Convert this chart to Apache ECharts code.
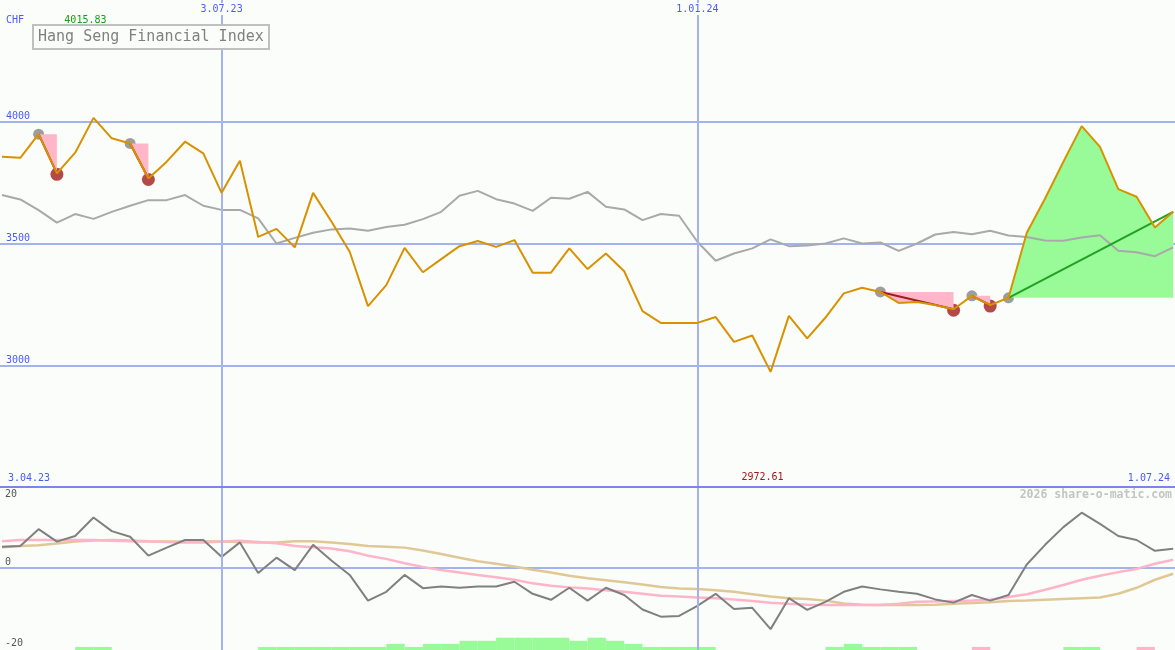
<!DOCTYPE html>
<html><head><meta charset="utf-8">
<script src="https://cdn.jsdelivr.net/npm/echarts@6/dist/echarts.min.js"></script>
<style>html,body{margin:0;padding:0;background:#fbfdfb}#c{width:1175px;height:650px}</style>
</head><body><div id="c"></div>
<script>
// ---------- data (weekly points, index 0 .. 64) ----------
const topDateWeeks = [12, 38];
const topDateLabels = ['3.07.23', '1.01.24'];
const spanLabels = ['3.04.23', '1.07.24'];
const unitLabel = 'CHF';
const titleText = 'Hang Seng Financial Index';
const watermark = '2026 share-o-matic.com';

const price = [3856, 3852, 3949, 3788, 3873, 4015.83, 3932, 3911, 3767, 3836,
  3918, 3870, 3708, 3840, 3527, 3560, 3484, 3708, 3590, 3466,
  3243, 3329, 3482, 3382, 3436, 3489, 3510, 3486, 3514, 3380,
  3380, 3480, 3395, 3459, 3386, 3222, 3174, 3174, 3174, 3198,
  3096, 3122, 2972.61, 3203, 3110, 3196, 3295, 3318, 3301, 3256,
  3260, 3247, 3230, 3285, 3247, 3277, 3544, 3685, 3836, 3982,
  3897, 3723, 3692, 3566, 3630];
const benchmark = [3699, 3681, 3637, 3586, 3621, 3601, 3630, 3655, 3678, 3678,
  3699, 3655, 3638, 3638, 3603, 3500, 3523, 3544, 3558, 3562,
  3552, 3568, 3577, 3600, 3630, 3696, 3716, 3682, 3664, 3634,
  3688, 3684, 3712, 3651, 3640, 3596, 3621, 3614, 3507, 3429,
  3459, 3480, 3517, 3489, 3492, 3500, 3521, 3500, 3504, 3470,
  3500, 3537, 3547, 3538, 3552, 3533, 3527, 3512, 3511, 3525,
  3534, 3470, 3464, 3448, 3484];
const momentum = [5.2, 5.4, 9.6, 6.5, 7.9, 12.5, 9.1, 7.7, 3.0, 5.0,
  6.9, 6.9, 2.7, 6.3, -1.3, 2.5, -0.6, 5.7, 1.8, -1.8,
  -8.2, -6.0, -1.8, -5.1, -4.7, -5.0, -4.7, -4.7, -3.5, -6.5,
  -8.0, -5.0, -8.2, -5.0, -6.8, -10.4, -12.2, -12.0, -9.5, -6.5,
  -10.3, -10.0, -15.3, -7.6, -10.5, -8.5, -6.0, -4.7, -5.4, -6.0,
  -6.5, -7.9, -8.7, -6.8, -8.2, -6.8, 0.8, 5.7, 10.1, 13.7,
  10.9, 7.9, 6.9, 4.2, 4.7];
const avgFast = [6.6, 6.9, 6.9, 6.9, 6.9, 6.9, 6.7, 6.6, 6.5, 6.4,
  6.3, 6.3, 6.5, 6.7, 6.4, 6.1, 5.4, 5.1, 4.8, 4.1,
  3.0, 2.2, 1.1, 0.2, -0.6, -1.2, -1.8, -2.4, -3.0, -3.9,
  -4.5, -4.9, -5.2, -5.6, -6.0, -6.5, -7.0, -7.2, -7.4, -7.6,
  -7.9, -8.3, -8.7, -9.0, -9.2, -9.3, -9.3, -9.3, -9.3, -9.0,
  -8.5, -8.4, -8.3, -8.2, -8.0, -7.3, -6.6, -5.5, -4.3, -3.0,
  -2.0, -1.1, -0.3, 1.0, 2.0];
const avgSlow = [5.1, 5.4, 5.6, 6.0, 6.5, 6.8, 6.9, 6.8, 6.6, 6.5,
  6.5, 6.6, 6.5, 6.4, 6.3, 6.3, 6.6, 6.6, 6.3, 5.9,
  5.4, 5.2, 5.0, 4.3, 3.4, 2.5, 1.6, 1.0, 0.3, -0.5,
  -1.2, -2.0, -2.6, -3.1, -3.6, -4.2, -4.8, -5.2, -5.3, -5.6,
  -6.0, -6.6, -7.2, -7.6, -7.8, -8.2, -8.9, -9.2, -9.3, -9.3,
  -9.3, -9.2, -9.0, -8.8, -8.6, -8.3, -8.2, -8.0, -7.8, -7.6,
  -7.4, -6.5, -5.0, -3.0, -1.5];
// signal bars, one per week interval (i .. i+1)
const barsGreen = [0, 0, 0, 0, 1, 1, 0, 0, 0, 0, 0, 0, 0, 0, 1, 1, 1, 1, 1, 1,
  1, 2, 1, 2, 2, 3, 3, 4, 4, 4, 4, 3, 4, 3, 2, 1, 1, 1, 1, 0,
  0, 0, 0, 0, 0, 1, 2, 1, 1, 1, 0, 0, 0, 0, 0, 0, 0, 0, 1, 1,
  0, 0, 0, 0];
const barsPink = [0, 0, 0, 0, 0, 0, 0, 0, 0, 0, 0, 0, 0, 0, 0, 0, 0, 0, 0, 0,
  0, 0, 0, 0, 0, 0, 0, 0, 0, 0, 0, 0, 0, 0, 0, 0, 0, 0, 0, 0,
  0, 0, 0, 0, 0, 0, 0, 0, 0, 0, 0, 0, 0, 1, 0, 0, 0, 0, 0, 0,
  0, 0, 1, 0];
// signals: [start week, end week]
const sellSignals = [[2, 3], [7, 8], [48, 52], [53, 54]];
const buySignals = [[55, 64]];

// ---------- chart ----------
const chart = echarts.init(document.getElementById('c'), null, {renderer: 'canvas'});
const BG = '#fbfdfb';
const GRID = '#a4b2f0';
const DIV = '#7886ee';
const BLUE = '#4a5cf0';
const FONT = 'DejaVu Sans Mono';
const X_MIN = -0.109, X_MAX = 64.099;
const W = 1175;
const barW = W / (X_MAX - X_MIN);

const pts = arr => arr.map((v, i) => [i, v]);
const seg = (arr, s, e) => arr.slice(s, e + 1).map((v, k) => [s + k, v]);
const vLines = () => ({
  silent: true, symbol: 'none', label: {show: false},
  lineStyle: {color: GRID, width: 2, type: 'solid'},
  data: topDateWeeks.map(w => ({xAxis: w})), animation: false
});
const hiddenX = (gi) => ({type: 'value', gridIndex: gi, min: X_MIN, max: X_MAX, show: false});

const series = [];
series.push({type: 'scatter', xAxisIndex: 0, yAxisIndex: 0, z: 1, symbolSize: 11,
  itemStyle: {color: '#858585'},
  data: sellSignals.concat(buySignals).map(([s]) => [s, price[s]])});
series.push({type: 'scatter', xAxisIndex: 0, yAxisIndex: 0, z: 1, symbolSize: 13, symbolOffset: [0, 1],
  itemStyle: {color: '#a11d1d'},
  data: sellSignals.map(([, e]) => [e, price[e]])});
sellSignals.forEach(([s, e]) => series.push({type: 'line', xAxisIndex: 0, yAxisIndex: 0, z: 2,
  data: seg(price, s, e), showSymbol: false, lineStyle: {width: 0, opacity: 0},
  areaStyle: {color: '#ffb6c8', opacity: 1, origin: price[s]}}));
buySignals.forEach(([s, e]) => series.push({type: 'line', xAxisIndex: 0, yAxisIndex: 0, z: 2,
  data: seg(price, s, e), showSymbol: false, lineStyle: {width: 0, opacity: 0},
  areaStyle: {color: '#98fb98', opacity: 1, origin: price[s]}}));
series.push({type: 'line', xAxisIndex: 0, yAxisIndex: 0, z: 3, data: pts(benchmark),
  showSymbol: false, lineStyle: {color: '#a9a9a9', width: 2}, markLine: vLines()});
sellSignals.forEach(([s, e]) => series.push({type: 'line', xAxisIndex: 0, yAxisIndex: 0, z: 4,
  data: [[s, price[s]], [e, price[e]]], showSymbol: false, lineStyle: {color: '#a11d1d', width: 2}}));
buySignals.forEach(([s, e]) => series.push({type: 'line', xAxisIndex: 0, yAxisIndex: 0, z: 4,
  data: [[s, price[s]], [e, price[e]]], showSymbol: false, lineStyle: {color: '#22a022', width: 2}}));
series.push({type: 'line', xAxisIndex: 0, yAxisIndex: 0, z: 5, data: pts(price),
  showSymbol: false, lineStyle: {color: '#d89200', width: 2}});
series.push({type: 'line', xAxisIndex: 2, yAxisIndex: 1, z: 3, data: pts(avgSlow),
  showSymbol: false, lineStyle: {color: '#e0c896', width: 2.5}, markLine: vLines()});
series.push({type: 'line', xAxisIndex: 2, yAxisIndex: 1, z: 3, data: pts(avgFast),
  showSymbol: false, lineStyle: {color: '#ffb4c8', width: 2.5}});
series.push({type: 'line', xAxisIndex: 2, yAxisIndex: 1, z: 4, data: pts(momentum),
  showSymbol: false, lineStyle: {color: '#808080', width: 2}});
series.push({type: 'bar', xAxisIndex: 3, yAxisIndex: 3, stack: 'sig', barWidth: barW, z: 2,
  itemStyle: {color: '#98fb98'}, data: barsGreen.map((v, i) => [i + 0.5, v]), markLine: vLines()});
series.push({type: 'bar', xAxisIndex: 3, yAxisIndex: 3, stack: 'sig', barWidth: barW, z: 2,
  itemStyle: {color: '#ffb6c8'}, data: barsPink.map((v, i) => [i + 0.5, v])});

const option = {
  animation: false,
  backgroundColor: BG,
  title: {
    text: titleText, left: 33, top: 25, padding: [3, 5], borderColor: '#c0c0c0', borderWidth: 2,
    backgroundColor: BG, z: 20,
    textStyle: {fontFamily: FONT, fontSize: 15, fontWeight: 'normal', color: '#808080', lineHeight: 18}
  },
  grid: [
    {left: 0, width: W, top: 0, height: 487},
    {left: 0, width: W, top: 487.4, height: 160.6},
    {left: 0, width: W, top: 630, height: 20}
  ],
  xAxis: [
    {type: 'value', gridIndex: 0, min: X_MIN, max: X_MAX, position: 'top', z: 10,
      axisLine: {show: false}, axisTick: {show: false}, splitLine: {show: false},
      axisLabel: {inside: true, margin: 3, customValues: topDateWeeks,
        formatter: v => topDateLabels[topDateWeeks.indexOf(Math.round(v))] || '',
        color: BLUE, fontFamily: FONT, fontSize: 10, backgroundColor: BG, padding: [1, 1]}},
    {type: 'value', gridIndex: 0, min: X_MIN, max: X_MAX, position: 'bottom', z: 10,
      axisLine: {show: true, onZero: false, lineStyle: {color: DIV, width: 2}}, axisTick: {show: false},
      splitLine: {show: false},
      axisLabel: {inside: true, margin: 4, customValues: [X_MIN, X_MAX], showMinLabel: true, showMaxLabel: true,
        alignMinLabel: 'left', alignMaxLabel: 'right', padding: [0, 5, 0, 8],
        formatter: v => (v < 32 ? spanLabels[0] : spanLabels[1]),
        color: BLUE, fontFamily: FONT, fontSize: 10}},
    hiddenX(1),
    hiddenX(2)
  ],
  yAxis: [
    {type: 'value', gridIndex: 0, min: 2500, max: 4500, interval: 500, position: 'left',
      axisLine: {show: false}, axisTick: {show: false},
      splitLine: {show: true, lineStyle: {color: ['rgba(0,0,0,0)', GRID, GRID, GRID], width: 2}},
      axisLabel: {inside: true, margin: 6, verticalAlign: 'bottom', showMinLabel: false, showMaxLabel: false,
        formatter: v => String(v),
        color: BLUE, fontFamily: FONT, fontSize: 10}},
    {type: 'value', gridIndex: 1, min: -20, max: 20, interval: 20, position: 'left',
      axisLine: {show: false}, axisTick: {show: false},
      splitLine: {show: true, lineStyle: {color: ['rgba(0,0,0,0)', GRID, 'rgba(0,0,0,0)'], width: 2}},
      axisLabel: {inside: true, margin: 5, verticalAlign: 'bottom', showMaxLabel: false,
        formatter: v => String(v),
        color: '#555555', fontFamily: FONT, fontSize: 10}},
    {type: 'value', gridIndex: 1, min: -20, max: 20, interval: 20, position: 'left',
      axisLine: {show: false}, axisTick: {show: false}, splitLine: {show: false},
      axisLabel: {inside: true, margin: 5, verticalAlign: 'top', padding: [2, 0, 0, 0],
        formatter: v => (v === 20 ? '20' : ''),
        color: '#555555', fontFamily: FONT, fontSize: 10}},
    {type: 'value', gridIndex: 2, min: 0, max: 6.5, show: false}
  ],
  series: series
};
chart.setOption(option);

const iMax = price.indexOf(Math.max(...price));
const iMin = price.indexOf(Math.min(...price));
const pMax = chart.convertToPixel({xAxisIndex: 0, yAxisIndex: 0}, [iMax, price[iMax]]);
const pMin = chart.convertToPixel({xAxisIndex: 0, yAxisIndex: 0}, [iMin, price[iMin]]);
const txt = (x, y, text, color, align) => ({
  type: 'text', x: x, y: y, z: 30,
  style: {text: text, fill: color, font: '10px "' + FONT + '"', align: align, verticalAlign: 'top'}
});
chart.setOption({
  graphic: [
    txt(6, 15.5, unitLabel, BLUE, 'left'),
    txt(pMax[0] + 13, 15.5, price[iMax].toFixed(2), '#1a9a1a', 'right'),
    txt(pMin[0] + 13, 472.5, price[iMin].toFixed(2), '#a01818', 'right'),
    {type: 'text', x: 1172, y: 489.5, z: 30,
      style: {text: watermark, fill: '#c4c4c4', font: 'bold 11.5px "' + FONT + '"', align: 'right', verticalAlign: 'top'}}
  ]
});
</script>
</body></html>
